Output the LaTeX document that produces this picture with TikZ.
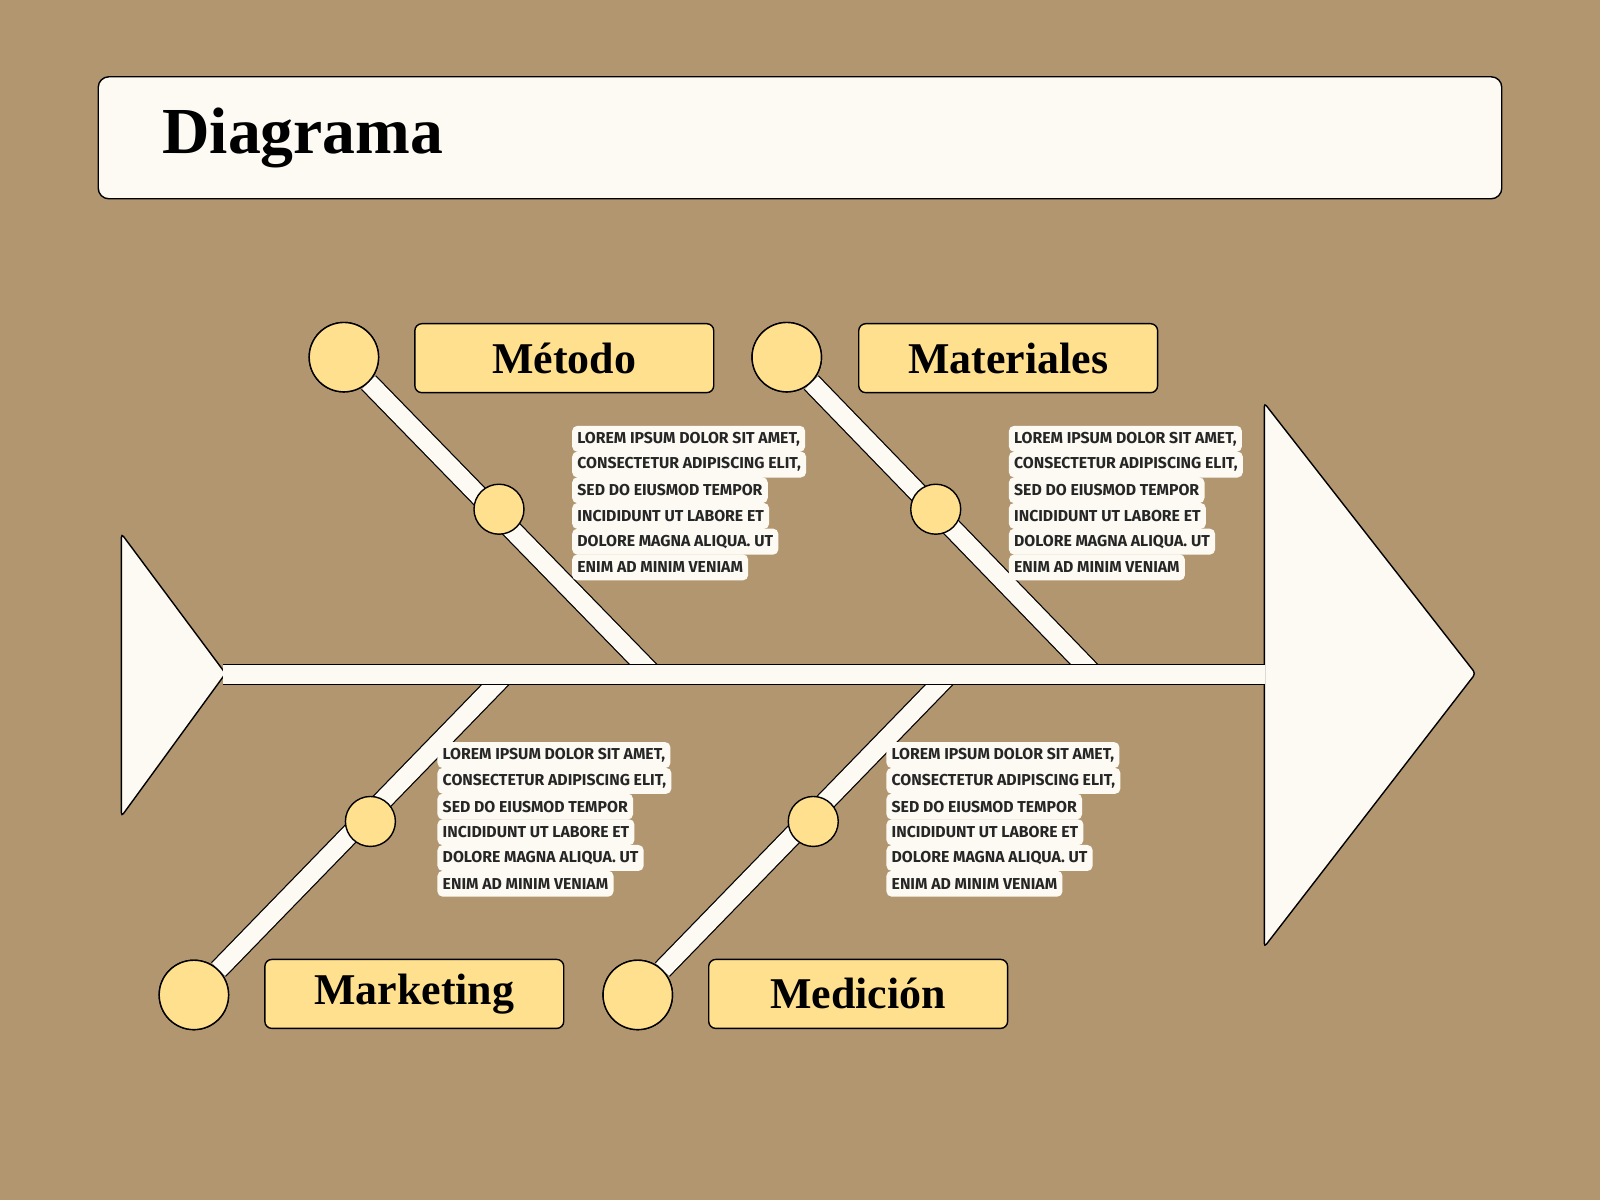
\documentclass[tikz,border=0pt]{standalone}
\usepackage{fontspec}
\setmainfont{Liberation Serif}
\newfontfamily\hand{Fira Sans}
\definecolor{bg}{RGB}{178,150,112}
\definecolor{cream}{RGB}{253,250,243}
\definecolor{gold}{RGB}{254,224,142}
\begin{document}
\begin{tikzpicture}[x=0.010204cm,y=-0.010204cm,
  band/.style={line width=0.35pt,draw=black,double=cream,double distance=5.2pt},
  bigc/.style={circle,draw=black,line width=0.4pt,fill=gold,minimum size=0.694cm,inner sep=0},
  smc/.style={circle,draw=black,line width=0.4pt,fill=gold,minimum size=0.5cm,inner sep=0},
  lab/.style={draw=black,line width=0.4pt,fill=gold,rounded corners=2pt,minimum width=2.99cm,minimum height=0.69cm,font=\bfseries\fontsize{12.5}{12.5}\selectfont},
  tl/.style={anchor=west,fill=cream,rounded corners=1.5pt,inner xsep=1.5pt,inner ysep=0pt,minimum height=7.4pt,font=\hand\bfseries\fontsize{4.5}{4.5}\selectfont,text=black!85},
  tri/.style={draw=black,line width=0.4pt,fill=cream,rounded corners=1pt}]
\fill[bg] (0,0) rectangle (1568,1176);
\useasboundingbox (0,0) rectangle (1568,1176);
\node[draw=black,line width=0.4pt,fill=cream,rounded corners=3pt,minimum width=14.04cm,minimum height=1.22cm] (title) at (784,135) {};
\node[anchor=west,font=\bfseries\fontsize{18.7}{18.7}\selectfont] (tt) at (147,135) {Diagrama};
% triangles
\draw[tri] (119,523) -- (221,660) -- (119,800) -- cycle;
\draw[tri] (1239,395) -- (1446,660) -- (1239,928) -- cycle;
% circles
\node[bigc] (c1) at (337,350) {};
\node[bigc] (c2) at (771,350) {};
\node[bigc] (c3) at (190,975) {};
\node[bigc] (c4) at (625,975) {};
\coordinate (e1) at (640,661);
\coordinate (e2) at (1072,661);
\coordinate (e3) at (495,661);
\coordinate (e4) at (930,661);
\draw[band] (c1) -- (e1);
\draw[band] (c2) -- (e2);
\draw[band] (c3) -- (e3);
\draw[band] (c4) -- (e4);
\coordinate (s1) at (219,661);
\coordinate (s2) at (1240,661);
\draw[band] (s1) -- (s2);
\node[bigc] at (c1) {};
\node[bigc] at (c2) {};
\node[bigc] at (c3) {};
\node[bigc] at (c4) {};
\node[smc] (m1) at (489,499) {};
\node[smc] (m2) at (917,499) {};
\node[smc] (m3) at (363,805) {};
\node[smc] (m4) at (797,805) {};
% labels
\node[lab] (l1) at (553,351) {Método};
\node[lab] (l2) at (988,351) {Materiales};
\node[lab] (l3) at (406,974) {Marketing};
\node[lab] (l4) at (841,974) {Medición};
% texts
\foreach \x/\y/\n in {560/430/a,988/430/b,428/740/c,868/740/d}{
  \foreach \t [count=\i from 0] in {LOREM IPSUM DOLOR SIT AMET{,},CONSECTETUR ADIPISCING ELIT{,},SED DO EIUSMOD TEMPOR,INCIDIDUNT UT LABORE ET,DOLORE MAGNA ALIQUA. UT,ENIM AD MINIM VENIAM}{
    \node[tl] (t\n\i) at (\x,\y+\i*25.2) {\t};
  }
}
\end{tikzpicture}
\end{document}
